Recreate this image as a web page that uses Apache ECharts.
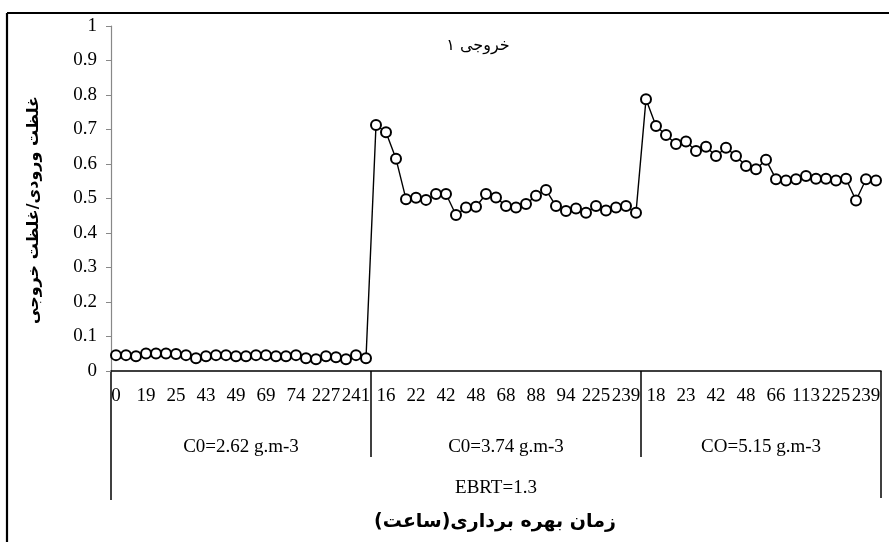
<!DOCTYPE html>
<html><head><meta charset="utf-8">
<script src="https://cdn.jsdelivr.net/npm/echarts/dist/echarts.min.js"></script>
<style>html,body{margin:0;padding:0;background:#fff}#c{width:889px;height:542px}</style>
</head><body><div id="c"></div><script>
// Time labels (hours) per group
var g1Times = [0,4,17,19,21,23,25,27,41,43,45,47,49,51,67,69,71,72,74,92,223,227,229,237,241,243];
var g2Times = [0,16,18,20,22,24,26,42,44,46,48,50,66,68,70,72,88,90,92,94,96,221,225,227,235,239,241];
var g3Times = [0,18,19,21,23,25,40,42,44,46,48,50,64,66,68,70,113,115,221,225,229,235,239,241];
// C/C0 values per group
var g1Values = [0.046,0.046,0.043,0.051,0.051,0.051,0.049,0.046,0.037,0.043,0.046,0.046,0.043,0.043,0.046,0.046,0.043,0.043,0.046,0.037,0.034,0.043,0.040,0.034,0.046,0.037];
var g2Values = [0.713,0.692,0.615,0.498,0.502,0.496,0.513,0.513,0.452,0.474,0.476,0.513,0.503,0.478,0.474,0.484,0.508,0.525,0.478,0.464,0.471,0.459,0.478,0.465,0.474,0.478,0.459];
var g3Values = [0.788,0.710,0.684,0.658,0.665,0.638,0.650,0.623,0.647,0.623,0.594,0.585,0.612,0.556,0.552,0.556,0.565,0.557,0.557,0.552,0.557,0.494,0.556,0.552];
var groupLabels = ['C0=2.62 g.m-3','C0=3.74 g.m-3','CO=5.15 g.m-3'];
var topLabel = 'EBRT=1.3';
var yTicks = [0,0.1,0.2,0.3,0.4,0.5,0.6,0.7,0.8,0.9,1];

var categories = [].concat(g1Times, g2Times, g3Times).map(String);
var values = [].concat(g1Values, g2Values, g3Values);
var groupSizes = [g1Times.length, g2Times.length, g3Times.length];

var serif = "'Liberation Serif','Times New Roman',serif";
var fa = "'DejaVu Sans',sans-serif";

var chart = echarts.init(document.getElementById('c'));
chart.setOption({
  animation:false,
  backgroundColor:'#fff',
  grid:{left:111,right:8,top:26,bottom:171,containLabel:false},
  xAxis:{type:'category',data:categories,boundaryGap:true,
    axisLine:{lineStyle:{color:'#000',width:1.5}},
    axisTick:{show:false},
    axisLabel:{interval:2,color:'#000',fontFamily:serif,fontSize:19,margin:16,hideOverlap:false}
  },
  yAxis:{type:'value',min:0,max:1,interval:0.1,
    axisLine:{show:true,lineStyle:{color:'#888',width:1.2}},
    axisTick:{show:true,length:5,lineStyle:{color:'#888'}},
    splitLine:{show:false},
    axisLabel:{color:'#000',fontFamily:serif,fontSize:19,margin:14,
      formatter:function(v){var r=Math.round(v*10)/10;return yTicks.indexOf(r)>=0?String(r):'';}}
  },
  series:[{type:'line',data:values,symbol:'emptyCircle',symbolSize:10,showAllSymbol:true,
    lineStyle:{color:'#000',width:1.4},
    itemStyle:{color:'#000',borderColor:'#000',borderWidth:1.2}}]
});

function px(i){return chart.convertToPixel({xAxisIndex:0},i);}
var y0 = chart.convertToPixel({yAxisIndex:0},0);
var step = px(1)-px(0);
var leftX = px(0)-step/2, rightX = px(categories.length-1)+step/2;
var g = [];
var ln = function(x1,y1,x2,y2,w){g.push({type:'line',shape:{x1:x1,y1:y1,x2:x2,y2:y2},style:{stroke:'#000',lineWidth:w||1.5},silent:true});};
// chart frame
ln(7,13,889,13,2.2); ln(7,13,7,542,2.2);
// outer verticals
ln(leftX,y0,leftX,y0+129); ln(rightX,y0,rightX,y0+127);
var start=0;
for(var k=0;k<groupSizes.length;k++){
  var end=start+groupSizes[k]-1;
  var a=px(start)-step/2,b=px(end)+step/2;
  if(k>0) ln(a,y0,a,y0+86);
  g.push({type:'text',style:{text:groupLabels[k],x:(a+b)/2,y:y0+76,textAlign:'center',textVerticalAlign:'middle',font:'19px '+serif,fill:'#000'},silent:true});
  start=end+1;
}
g.push({type:'text',style:{text:topLabel,x:(leftX+rightX)/2,y:y0+117,textAlign:'center',textVerticalAlign:'middle',font:'19px '+serif,fill:'#000'},silent:true});
g.push({type:'text',style:{text:'زمان بهره برداری(ساعت)',x:495,y:522,textAlign:'center',textVerticalAlign:'middle',font:'bold 19px '+fa,fill:'#000'},silent:true});
g.push({type:'text',style:{text:'خروجی ۱',x:478,y:46,textAlign:'center',textVerticalAlign:'middle',font:'16px '+fa,fill:'#000'},silent:true});
g.push({type:'text',x:34,y:210,rotation:Math.PI/2,style:{text:'غلظت ورودی/غلظت خروجی',x:0,y:0,textAlign:'center',textVerticalAlign:'middle',font:'bold 16px '+fa,fill:'#000'},silent:true});
chart.setOption({graphic:g});
</script></body></html>
